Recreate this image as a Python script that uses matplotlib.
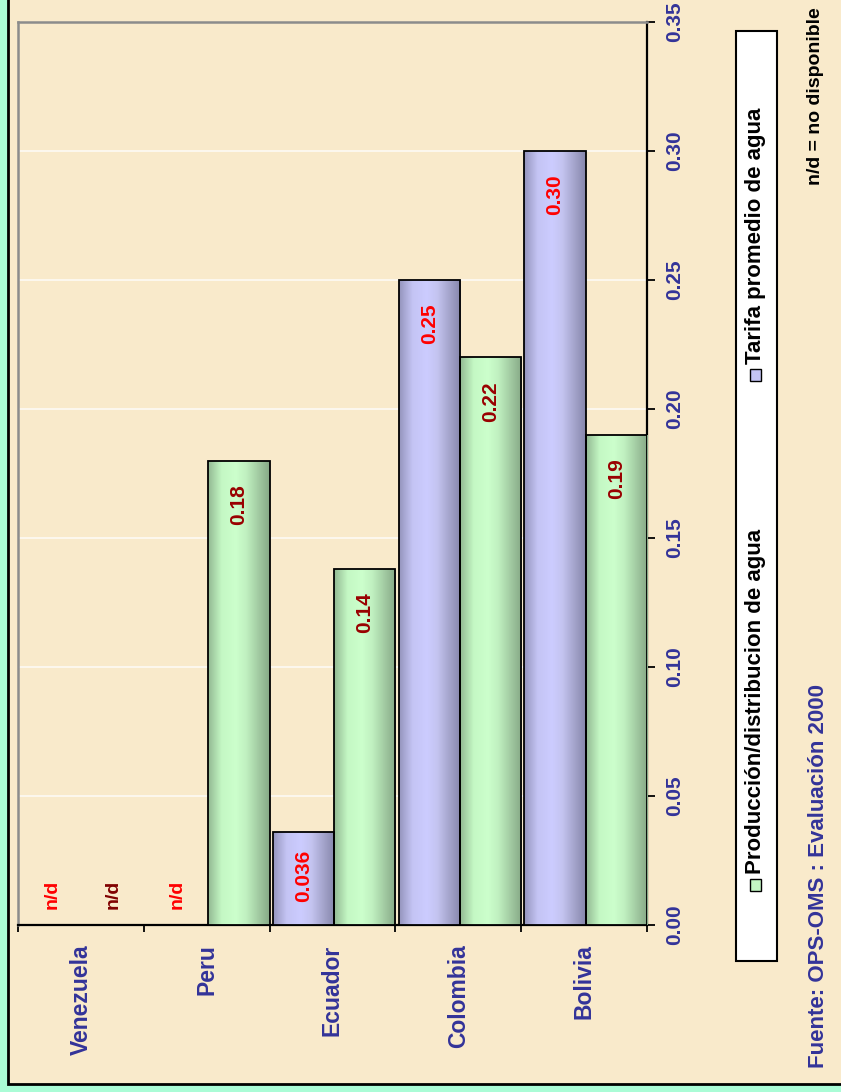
import numpy as np
import matplotlib.pyplot as plt
from matplotlib.colors import LinearSegmentedColormap
from matplotlib.patches import Rectangle

plt.rcParams['font.family'] = ['Liberation Sans', 'DejaVu Sans']
plt.rcParams['font.weight'] = 'bold'

# datos
paises = ['Venezuela', 'Peru', 'Ecuador', 'Colombia', 'Bolivia']
serie_tarifa = 'Tarifa promedio de agua'
serie_prod = 'Producción/distribucion de agua'
tarifa = [np.nan, np.nan, 0.036, 0.25, 0.30]
produccion = [np.nan, 0.18, 0.138, 0.22, 0.19]
etiq_tarifa = ['n/d', 'n/d', '0.036', '0.25', '0.30']
etiq_prod = ['n/d', '0.18', '0.14', '0.22', '0.19']
yticks = [0.00, 0.05, 0.10, 0.15, 0.20, 0.25, 0.30, 0.35]

W, H = 841, 1092
azul_txt = '#333399'
fondo = '#F9EACB'

fig = plt.figure(figsize=(W / 100, H / 100), dpi=100)
fig.patch.set_facecolor('#AAFCD6')
# panel beige con borde negro
fig.patches.append(Rectangle((8 / W, 1 - 1084 / H), 1.0, 1.0, transform=fig.transFigure,
                             facecolor=fondo, edgecolor='black', lw=2, zorder=-5))

ax = fig.add_axes([18 / W, 1 - 925 / H, (647 - 18) / W, (925 - 22) / H])
ax.set_facecolor('none')

x = np.arange(len(paises))
hueco = 0.025
bw = (1 - hueco) / 2
x_tar = x - 0.5 + hueco + bw / 2
x_prod = x + 0.5 - bw / 2

cmap_azul = LinearSegmentedColormap.from_list('azul', [(0, '#9494BC'), (0.22, '#C4C4F4'),
                                                       (0.45, '#CCCCFF'), (0.62, '#C4C4F0'),
                                                       (1, '#8686AA')])
cmap_verde = LinearSegmentedColormap.from_list('verde', [(0, '#92B892'), (0.22, '#C4F8C4'),
                                                         (0.45, '#CCFFCC'), (0.62, '#C0F0C0'),
                                                         (1, '#86A886')])
grad = np.linspace(0, 1, 256).reshape(1, -1)

b1 = ax.bar(x_tar, tarifa, width=bw, facecolor='none', edgecolor='black', lw=1.3, zorder=4)
b2 = ax.bar(x_prod, produccion, width=bw, facecolor='none', edgecolor='black', lw=1.3, zorder=4)

for bars, cm in [(b1, cmap_azul), (b2, cmap_verde)]:
    for p in bars:
        h = p.get_height()
        if np.isnan(h):
            continue
        x0 = p.get_x()
        im = ax.imshow(grad, cmap=cm, aspect='auto', zorder=3,
                       extent=[x0, x0 + p.get_width(), 0, h])
        im.set_clip_path(p)

# etiquetas de valores
for i in range(len(paises)):
    for xs, vals, labs, col, col_nd in [(x_tar, tarifa, etiq_tarifa, '#FF0000', '#FF0000'),
                                        (x_prod, produccion, etiq_prod, '#990000', '#800000')]:
        v = vals[i]
        if np.isnan(v):
            ax.text(xs[i], 0.012, labs[i], rotation=90, ha='center', va='center',
                    color=col_nd, fontsize=14, zorder=5)
        else:
            ax.text(xs[i], v - 0.017, labs[i], rotation=90, ha='center', va='center',
                    color=col, fontsize=15, zorder=5)

ax.set_xlim(-0.5, len(paises) - 0.5)
ax.set_ylim(0, 0.35)

# ejes
ax.yaxis.tick_right()
ax.set_yticks(yticks)
ax.set_yticklabels([f'{t:.2f}' for t in yticks], rotation=90, va='center', ha='left')
ax.tick_params(axis='y', colors='black', labelcolor=azul_txt, labelsize=15,
               length=6, width=1.3, direction='out', pad=7)
ax.set_xticks(x)
ax.set_xticklabels(paises, rotation=90, ha='center', va='top')
ax.set_xticks(np.arange(len(paises) + 1) - 0.5, minor=True)
ax.tick_params(axis='x', which='major', length=0, labelcolor=azul_txt, labelsize=16.5, pad=14)
ax.tick_params(axis='x', which='minor', length=5, width=1.3, color='black')

for s in ['left', 'top']:
    ax.spines[s].set_color('#8C8C8C')
    ax.spines[s].set_linewidth(1.8)
for s in ['right', 'bottom']:
    ax.spines[s].set_color('black')
    ax.spines[s].set_linewidth(1.6)

ax.yaxis.grid(True, color='white', lw=1.2, alpha=0.8)
ax.set_axisbelow(True)

# leyenda (girada)
fig.patches.append(Rectangle((736 / W, 1 - 961 / H), 41 / W, 930 / H, transform=fig.transFigure,
                             facecolor='white', edgecolor='black', lw=1.5, zorder=2))
for nombre, color, yc in [(serie_prod, '#C4F8C4', 885), (serie_tarifa, '#C4C4F4', 375)]:
    fig.patches.append(Rectangle((750 / W, 1 - (yc + 6) / H), 11 / W, 12 / H,
                                 transform=fig.transFigure, facecolor=color,
                                 edgecolor='black', lw=1, zorder=3))
    fig.text(756 / W, 1 - (yc - 11) / H, nombre, rotation=90, ha='center', va='bottom',
             fontsize=16, color='black', zorder=3)

fig.text(815 / W, 1 - 7 / H, 'n/d = no disponible', rotation=90, ha='center', va='top',
         fontsize=14, color='black')
fig.text(818 / W, 1 - 1068 / H, 'Fuente: OPS-OMS : Evaluación 2000', rotation=90,
         ha='center', va='bottom', fontsize=16, color=azul_txt)

fig.savefig('out.png', dpi=100, facecolor=fig.get_facecolor())
